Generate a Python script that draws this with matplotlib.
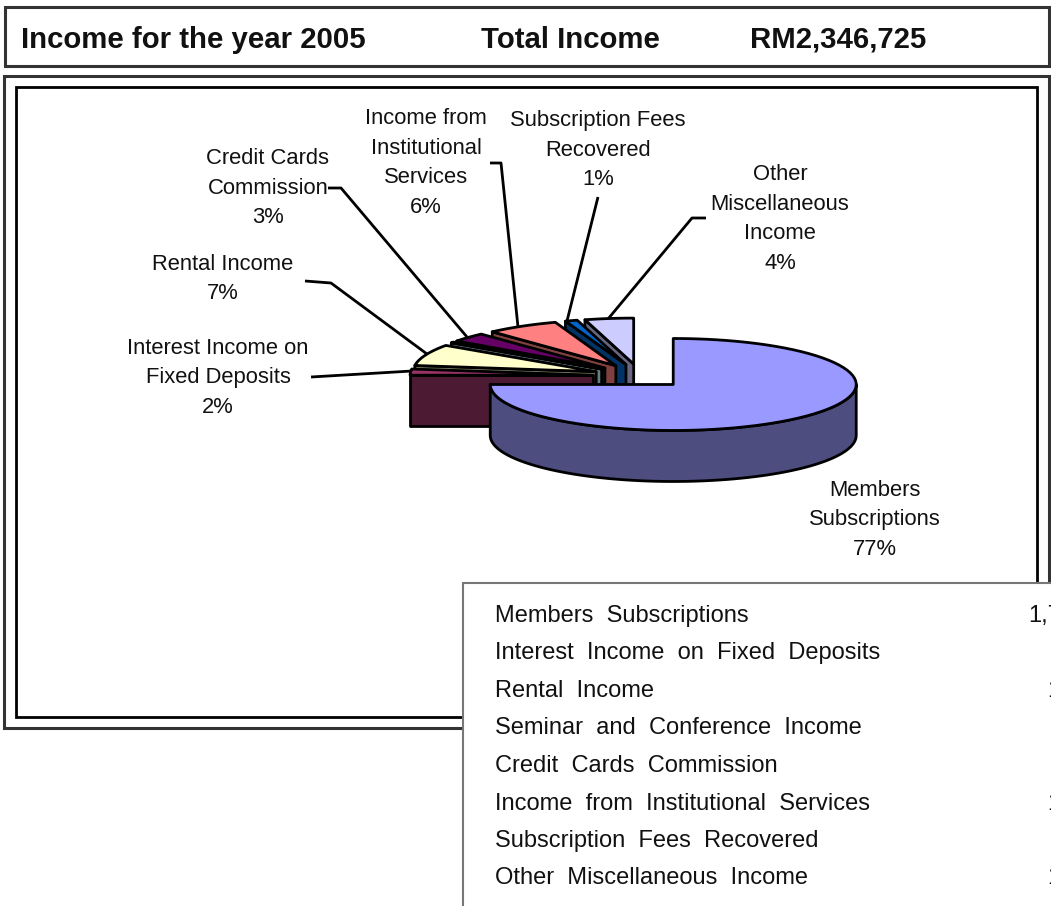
import numpy as np
import matplotlib

matplotlib.use("Agg")
import matplotlib.pyplot as plt
from matplotlib.patches import Polygon, Rectangle

plt.rcParams["font.family"] = ["Liberation Sans", "DejaVu Sans"]

categories = [
    "Members Subscriptions",
    "Interest Income on Fixed Deposits",
    "Rental Income",
    "Seminar and Conference Income",
    "Credit Cards Commission",
    "Income from Institutional Services",
    "Subscription Fees Recovered",
    "Other Miscellaneous Income",
]
shares = [77, 2, 7, 0.3, 3, 6, 1, 4]
top_colors = ["#9999FF", "#993366", "#FFFFCC", "#CCFFFF", "#660066", "#FF8080", "#0066CC", "#CCCCFF"]
side_colors = ["#4D4D80", "#4D1A33", "#808066", "#668080", "#330033", "#804040", "#003366", "#666680"]
table_values = ["1,7", "", "1", "", "", "1", "", "1"]

# label text, anchor of the text block
pie_labels = [
    ("Members\nSubscriptions\n77%", 875, 520),
    ("Interest Income on\nFixed Deposits\n2%", 218, 378),
    ("Rental Income\n7%", 223, 279),
    ("Credit Cards\nCommission\n3%", 268, 188),
    ("Income from\nInstitutional\nServices\n6%", 426, 163),
    ("Subscription Fees\nRecovered\n1%", 598, 150),
    ("Other\nMiscellaneous\nIncome\n4%", 780, 219),
]
leaders = [
    [(311, 377), (412, 371)],
    [(305, 281), (331, 283), (427, 354)],
    [(328, 188), (341, 188), (467, 337)],
    [(490, 163), (501, 163), (518, 327)],
    [(598, 197), (567, 321)],
    [(706, 218), (692, 218), (608, 319)],
]

CX, CY = 640, 376
RX, RY = 183, 46
EXPLODE_X, EXPLODE_Y = 47, 12
DEPTH = 51


def slice_angles():
    # the tilted view squeezes members to 270 deg and the rest to 90 deg
    rest = sum(shares[1:])
    angles = [(-180.0, 90.0)]
    start = 180.0
    for s in shares[1:]:
        end = start - 90.0 * s / rest
        angles.append((end, start))
        start = end
    return angles


def outline(center, a0, a1):
    t = np.radians(np.linspace(a0, a1, 80))
    return np.column_stack([center[0] + RX * np.cos(t), center[1] - RY * np.sin(t)])


def draw_slice(ax, a0, a1, top, side):
    mid = np.radians((a0 + a1) / 2)
    c = (CX + EXPLODE_X * np.cos(mid), CY - EXPLODE_Y * np.sin(mid))
    arc = outline(c, a0, a1)
    style = dict(edgecolor="black", linewidth=2, joinstyle="round")

    if a1 - a0 > 180:
        rim = outline(c, -180, 0)
        rim_low = rim[::-1] + [0, DEPTH]
        ax.add_patch(Polygon(np.vstack([rim, rim_low]), facecolor=side, **style))
    else:
        # cut face on the side turned to the viewer
        end = arc[-1]
        face = [c, end, end + [0, DEPTH], (c[0], c[1] + DEPTH)]
        ax.add_patch(Polygon(face, facecolor=side, **style))
    ax.add_patch(Polygon(np.vstack([[c], arc]), facecolor=top, **style))


def main():
    fig = plt.figure(figsize=(10.51, 9.06), dpi=100)
    ax = fig.add_axes([0, 0, 1, 1])
    ax.set_xlim(0, 1051)
    ax.set_ylim(906, 0)
    ax.axis("off")

    ax.add_patch(Rectangle((5, 7), 1044, 59, fill=False, edgecolor="#333333", linewidth=2.2))
    ax.add_patch(Rectangle((4, 76), 1045, 652, fill=False, edgecolor="#333333", linewidth=2.2))
    ax.add_patch(Rectangle((16, 87), 1021, 630, fill=False, edgecolor="black", linewidth=2))

    title_style = dict(fontsize=21.2, fontweight="bold", va="center", color="#111111")
    ax.text(21, 40, "Income for the year 2005", **title_style)
    ax.text(481, 40, "Total Income", **title_style)
    ax.text(750, 40, "RM2,346,725", **title_style)

    angles = slice_angles()
    for i in range(len(shares) - 1, 0, -1):
        draw_slice(ax, angles[i][0], angles[i][1], top_colors[i], side_colors[i])
    draw_slice(ax, angles[0][0], angles[0][1], top_colors[0], side_colors[0])

    for pts in leaders:
        xs, ys = zip(*pts)
        ax.plot(xs, ys, color="black", linewidth=2, solid_capstyle="butt")

    for text, x, y in pie_labels:
        ax.text(x, y, text, ha="center", va="center", fontsize=15.8, linespacing=1.55, color="#111111")

    ax.add_patch(Rectangle((463, 583), 600, 330, facecolor="white", edgecolor="#777777",
                           linewidth=1.5, zorder=5))
    for i, (name, value) in enumerate(zip(categories, table_values)):
        y = 616 + i * 37.5
        ax.text(495, y, name.replace(" ", "  "), fontsize=17, va="center", color="#111111", zorder=6)
        if value:
            ax.text(1028 if "," in value else 1047, y, value, fontsize=17, va="center",
                    color="#111111", zorder=6)

    fig.savefig("out.png", dpi=100)
    plt.close(fig)


if __name__ == "__main__":
    main()
